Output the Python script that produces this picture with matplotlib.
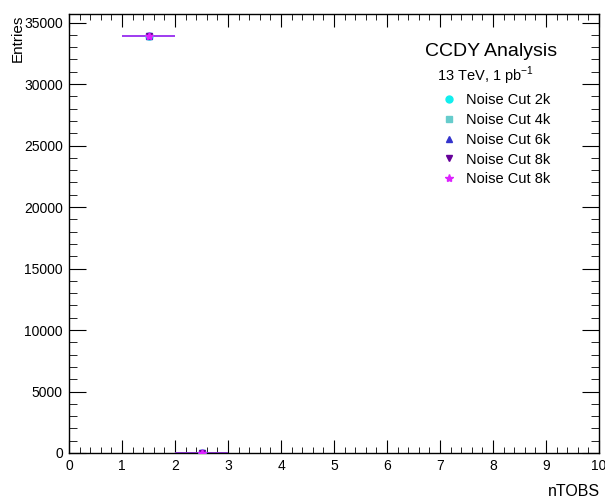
import numpy as np
import matplotlib
matplotlib.use("Agg")
import matplotlib.pyplot as plt
from matplotlib.ticker import MultipleLocator

plt.rcParams['font.family'] = ['Liberation Sans', 'DejaVu Sans']
plt.rcParams['mathtext.fontset'] = 'custom'
plt.rcParams['mathtext.rm'] = 'Liberation Sans'

# nTOBS histogram, bin edges 0..10, unit width
bin_edges = np.arange(0, 11)
counts_2k = [0, 33950, 20, 0, 0, 0, 0, 0, 0, 0]
counts_4k = [0, 33950, 20, 0, 0, 0, 0, 0, 0, 0]
counts_6k = [0, 33950, 20, 0, 0, 0, 0, 0, 0, 0]
counts_8k = [0, 33950, 20, 0, 0, 0, 0, 0, 0, 0]
counts_8k_b = [0, 33950, 20, 0, 0, 0, 0, 0, 0, 0]

labels = ["Noise Cut 2k", "Noise Cut 4k", "Noise Cut 6k", "Noise Cut 8k", "Noise Cut 8k"]
markers = ["o", "s", "^", "v", "*"]
colors = ["#11eeee", "#66cccc", "#3333cc", "#660099", "#dd22ff"]
series = [counts_2k, counts_4k, counts_6k, counts_8k, counts_8k_b]

fig = plt.figure(figsize=(6.05, 4.99), dpi=100)
ax = fig.add_axes([69 / 605, 1 - 453 / 499, 530 / 605, 439 / 499])

centers = 0.5 * (bin_edges[:-1] + bin_edges[1:])
half_w = 0.5 * np.diff(bin_edges)
handles = []
for counts, lab, m, c in zip(series, labels, markers, colors):
    y = np.array(counts, dtype=float)
    keep = y > 0
    ax.errorbar(centers[keep], y[keep], xerr=half_w[keep], yerr=np.sqrt(y[keep]),
                fmt="none", ecolor="#a040f0", elinewidth=1.2, zorder=2)
    h, = ax.plot(centers[keep], y[keep], linestyle="none", marker=m,
                 color=c, markersize=6 if m == "*" else 5, zorder=3)
    handles.append(h)

ax.set_xlim(0, 10)
ax.set_ylim(0, 35700)
ax.xaxis.set_major_locator(MultipleLocator(1))
ax.xaxis.set_minor_locator(MultipleLocator(0.2))
ax.yaxis.set_major_locator(MultipleLocator(5000))
ax.yaxis.set_minor_locator(MultipleLocator(1000))

# ROOT-like ticks on all four sides, pointing in
ax.tick_params(axis="x", which="major", direction="in", length=9.4, top=True,
               labelsize=10, pad=4)
ax.tick_params(axis="x", which="minor", direction="in", length=4.6, top=True)
ax.tick_params(axis="y", which="major", direction="in", length=12, right=True,
               labelsize=10, pad=4.5)
ax.tick_params(axis="y", which="minor", direction="in", length=5.8, right=True)
for sp in ax.spines.values():
    sp.set_linewidth(1.0)

fig.text(600 / 605, 1 - 491 / 499, "nTOBS", ha="right", va="center", fontsize=11.5)
fig.text(18 / 605, 1 - 15 / 499, "Entries", rotation=90, ha="center", va="top",
         fontsize=11)

fig.text(491.5 / 605, 1 - 52 / 499, "CCDY Analysis", ha="center", va="center",
         fontsize=14)
fig.text(437 / 605, 1 - 76 / 499, r"13 TeV, 1 pb$^{-1}$", ha="left", va="center",
         fontsize=10.5)

leg = ax.legend(handles, labels, loc="upper left",
                bbox_to_anchor=(440 / 605, 1 - 93 / 499),
                bbox_transform=fig.transFigure, frameon=False, fontsize=10.5,
                handlelength=1.2, handletextpad=0.6, labelspacing=0.4,
                borderpad=0, borderaxespad=0)

fig.savefig("out.png", dpi=100)
